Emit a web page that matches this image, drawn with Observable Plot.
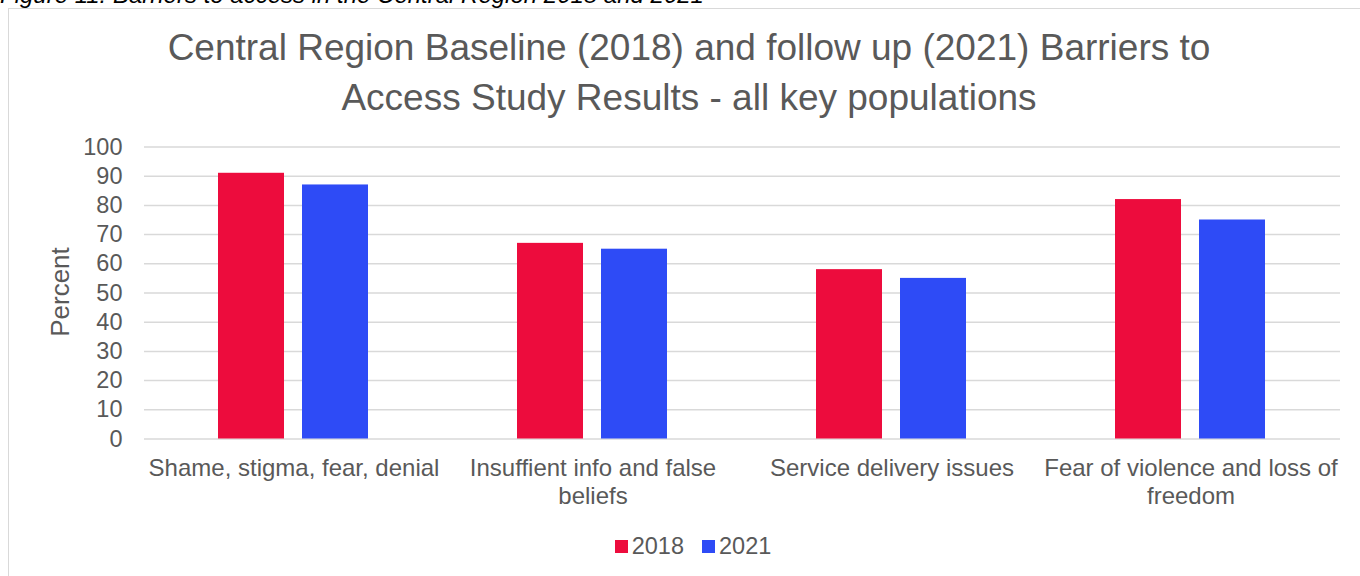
<!DOCTYPE html>
<html>
<head>
<meta charset="utf-8">
<script src="https://cdn.jsdelivr.net/npm/d3@7"></script>
<script src="https://cdn.jsdelivr.net/npm/@observablehq/plot@0.6"></script>
<style>
  html, body { margin: 0; padding: 0; background: #fff; }
  body { width: 1360px; height: 576px; overflow: hidden; position: relative; font-family: "Liberation Sans", Arial, sans-serif; }
  #caption { position: absolute; left: 0; top: -17px; font-style: italic; font-size: 24px; line-height: 24px; color: #000; white-space: nowrap; }
  #frame { position: absolute; left: 8px; top: 8px; width: 1500px; height: 700px; border: 1px solid #d9d9d9; background: #fff; }
  #title { position: absolute; left: 0; width: 1378px; top: 23px; text-align: center; font-size: 37px; line-height: 50px; color: #595959; }
  #ylabel { position: absolute; left: 60px; top: 292px; transform: translate(-50%, -50%) rotate(-90deg); font-size: 26px; color: #595959; white-space: nowrap; }
  #chart { position: absolute; left: 0; top: 120px; }
  #legend { position: absolute; top: 533px; left: 0; width: 1386px; display: flex; justify-content: center; align-items: center; font-size: 23.5px; color: #595959; }
  #legend .item { display: flex; align-items: center; margin: 0 9px; }
  #legend .sw { width: 13px; height: 13px; margin-right: 4px; display: inline-block; }
</style>
</head>
<body>
<div id="caption">Figure 11: Barriers to access in the Central Region 2018 and 2021</div>
<div id="frame"></div>
<div id="title">Central Region Baseline (2018) and follow up (2021) Barriers to<br>Access Study Results - all key populations</div>
<div id="ylabel">Percent</div>
<div id="chart"></div>
<div id="legend"></div>
<script>
const categories = [
  "Shame, stigma, fear, denial",
  "Insuffient info and false beliefs",
  "Service delivery issues",
  "Fear of violence and loss of freedom"
];
const tickLabels = [
  "Shame, stigma, fear, denial",
  "Insuffient info and false\nbeliefs",
  "Service delivery issues",
  "Fear of violence and loss of\nfreedom"
];
const years = ["2018", "2021"];
const values2018 = [91, 67, 58, 82];
const values2021 = [87, 65, 55, 75];
const colors = ["#ed0c3d", "#2e4bf6"];
const yTicks = [0, 10, 20, 30, 40, 50, 60, 70, 80, 90, 100];

const data = categories.flatMap((c, i) => [
  {category: c, year: years[0], value: values2018[i]},
  {category: c, year: years[1], value: values2021[i]}
]);

const chart = Plot.plot({
  width: 1360,
  height: 400,
  marginLeft: 143,
  marginRight: 19,
  marginTop: 26.5,
  marginBottom: 81.5,
  style: {fontFamily: "'Liberation Sans', Arial, sans-serif", background: "transparent", overflow: "visible"},
  fx: {domain: categories, padding: 0, label: null},
  x: {domain: years, paddingInner: 0.212, paddingOuter: 0.868, axis: null},
  y: {domain: [0, 100], label: null},
  color: {domain: years, range: colors},
  marks: [
    Plot.gridY(yTicks, {stroke: "#d9d9d9", strokeOpacity: 1, strokeWidth: 1.5}),
    Plot.axisY(yTicks, {tickSize: 0, tickPadding: 22, fontSize: 23.5, fill: "#595959", label: null}),
    Plot.axisFx({anchor: "bottom", tickSize: 0, tickPadding: 17, fontSize: 24, fill: "#595959", lineHeight: 1.17, label: null,
      tickFormat: d => tickLabels[categories.indexOf(d)]}),
    Plot.barY(data, {fx: "category", x: "year", y: "value", fill: "year"})
  ]
});
document.getElementById("chart").appendChild(chart);

const legend = document.getElementById("legend");
years.forEach((y, i) => {
  const item = document.createElement("div");
  item.className = "item";
  const sw = document.createElement("span");
  sw.className = "sw";
  sw.style.background = colors[i];
  const t = document.createElement("span");
  t.textContent = y;
  item.appendChild(sw);
  item.appendChild(t);
  legend.appendChild(item);
});
</script>
</body>
</html>
